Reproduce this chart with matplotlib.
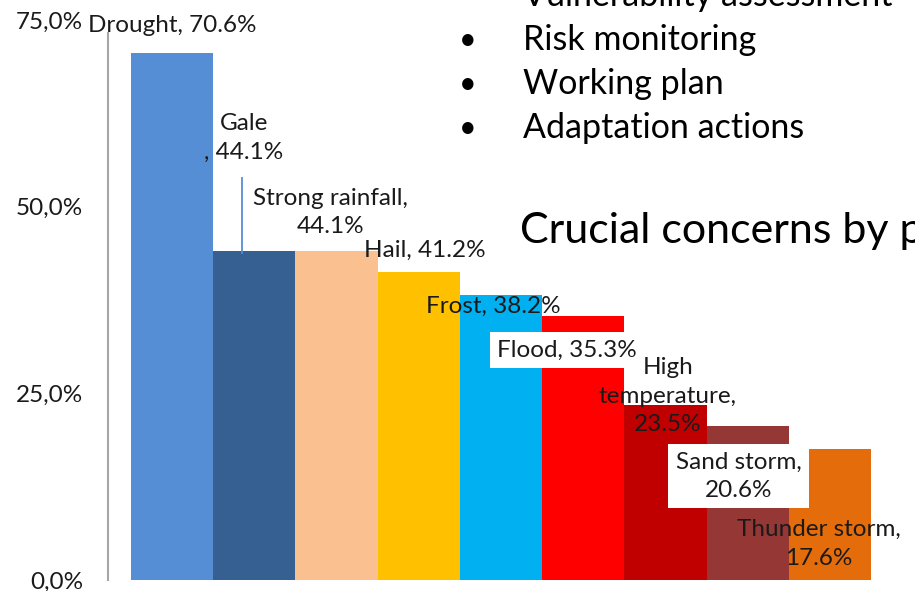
import matplotlib
matplotlib.use("Agg")
import matplotlib.pyplot as plt
from matplotlib.ticker import FuncFormatter

plt.rcParams["font.family"] = ["Lato", "DejaVu Sans"]

# 数据
hazards = ["Drought", "Gale", "Strong rainfall", "Hail", "Frost", "Flood",
           "High temperature", "Sand storm", "Thunder storm"]
shares = [70.6, 44.1, 44.1, 41.2, 38.2, 35.3, 23.5, 20.6, 17.6]
bar_colors = ["#558ED5", "#366092", "#FAC090", "#FFC000", "#00B0F0",
              "#FF0000", "#C00000", "#953735", "#E46C0A"]
y_ticks = [0, 25, 50, 75]
bullets = ["Vulnerability assessment", "Risk monitoring", "Working plan", "Adaptation actions"]
subtitle = "Crucial concerns by p"

# 标签文本与位置（数据坐标）
label_texts = [
    "Drought, 70.6%",
    "Gale\n, 44.1%",
    "Strong rainfall,\n44.1%",
    "Hail, 41.2%",
    "Frost, 38.2%",
    "Flood, 35.3%",
    "High\ntemperature,\n23.5%",
    "Sand storm,\n20.6%",
    "Thunder storm,\n17.6%",
]
label_x = [0.0, 0.87, 1.93, 3.07, 3.91, 4.80, 6.03, 6.89, 7.87]
label_y = [74.2, 59.2, 49.2, 44.1, 36.6, 30.8, 24.6, 13.9, 4.8]
label_boxed = [False, False, False, False, False, True, False, True, False]

fig = plt.figure(figsize=(9.15, 5.91), dpi=100)
fig.patch.set_facecolor("white")
ax = fig.add_axes([108 / 915, 11 / 591, (894 - 108) / 915, (580 - 20) / 591])

xs = list(range(len(hazards)))
ax.bar(xs, shares, width=1.0, color=bar_colors, zorder=2)

ax.set_xlim(-0.78, 8.78)
ax.set_ylim(0, 75)
ax.set_yticks(y_ticks)
ax.yaxis.set_major_formatter(FuncFormatter(lambda v, p: f"{v:.1f}%".replace(".", ",")))
ax.tick_params(axis="y", length=0, pad=18, labelsize=17.5, labelcolor="#1a1a1a")
ax.set_xticks([])
for side in ["top", "right", "bottom"]:
    ax.spines[side].set_visible(False)
ax.spines["left"].set_color("#A6A6A6")
ax.spines["left"].set_linewidth(1.5)
ax.spines["left"].set_bounds(0, 73.3)

# Gale 的引导线
ax.plot([0.85, 0.85], [43.8, 53.8], color="#558ED5", lw=1.3, zorder=3)

for txt, lx, ly, boxed in zip(label_texts, label_x, label_y, label_boxed):
    kw = {}
    if boxed:
        kw["bbox"] = dict(boxstyle="square,pad=0.3", facecolor="white", edgecolor="none")
    ax.text(lx, ly, txt, ha="center", va="center", fontsize=17.5, color="#1a1a1a",
            linespacing=1.45, zorder=4, clip_on=False, **kw)

# 右上角的项目符号文本
for i, b in enumerate(bullets):
    yy = (591 + 4 - 44 * i) / 591
    if i > 0:
        fig.text(468 / 915, yy, "\u2022", ha="center", va="center", fontsize=22, color="black")
    fig.text(523 / 915, yy, b, ha="left", va="center", fontsize=24.5, color="black")

fig.text(520 / 915, (591 - 231) / 591, subtitle, ha="left", va="center", fontsize=31, color="black")

fig.savefig("out.png", dpi=100, facecolor="white")
